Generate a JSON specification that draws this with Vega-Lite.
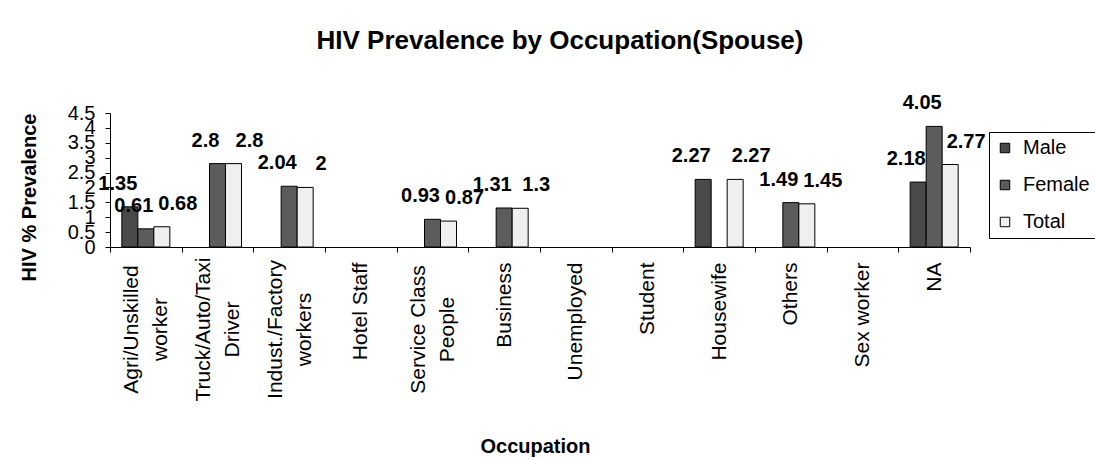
{
  "$schema": "https://vega.github.io/schema/vega-lite/v6.json",
  "width": 860,
  "height": 134,
  "autosize": {"type": "none"},
  "padding": {"left": 110, "top": 113, "right": 125, "bottom": 212},
  "background": "white",
  "config": {
    "font": "Liberation Sans",
    "view": {"stroke": null},
    "axis": {"domainColor": "#000", "tickColor": "#000", "labelColor": "#000", "titleColor": "#000", "grid": false}
  },
  "title": {
    "text": "HIV Prevalence by Occupation(Spouse)",
    "fontSize": 26,
    "fontWeight": "bold",
    "font": "Liberation Sans",
    "color": "#000",
    "anchor": "middle",
    "dx": 20,
    "offset": 18,
    "baseline": "alphabetic"
  },
  "data": {
    "values": [
      {"Occupation": "Agri/Unskilled\nworker", "Series": "Male", "Prevalence": 1.35},
      {"Occupation": "Agri/Unskilled\nworker", "Series": "Female", "Prevalence": 0.61},
      {"Occupation": "Agri/Unskilled\nworker", "Series": "Total", "Prevalence": 0.68},
      {"Occupation": "Truck/Auto/Taxi\nDriver", "Series": "Female", "Prevalence": 2.8},
      {"Occupation": "Truck/Auto/Taxi\nDriver", "Series": "Total", "Prevalence": 2.8},
      {"Occupation": "Indust./Factory\nworkers", "Series": "Female", "Prevalence": 2.04},
      {"Occupation": "Indust./Factory\nworkers", "Series": "Total", "Prevalence": 2},
      {"Occupation": "Service Class\nPeople", "Series": "Female", "Prevalence": 0.93},
      {"Occupation": "Service Class\nPeople", "Series": "Total", "Prevalence": 0.87},
      {"Occupation": "Business", "Series": "Female", "Prevalence": 1.31},
      {"Occupation": "Business", "Series": "Total", "Prevalence": 1.3},
      {"Occupation": "Housewife", "Series": "Male", "Prevalence": 2.27},
      {"Occupation": "Housewife", "Series": "Total", "Prevalence": 2.27},
      {"Occupation": "Others", "Series": "Female", "Prevalence": 1.49},
      {"Occupation": "Others", "Series": "Total", "Prevalence": 1.45},
      {"Occupation": "NA", "Series": "Male", "Prevalence": 2.18},
      {"Occupation": "NA", "Series": "Female", "Prevalence": 4.05},
      {"Occupation": "NA", "Series": "Total", "Prevalence": 2.77}
    ]
  },
  "encoding": {
    "x": {
      "field": "Occupation",
      "type": "nominal",
      "sort": null,
      "scale": {
        "domain": ["Agri/Unskilled\nworker", "Truck/Auto/Taxi\nDriver", "Indust./Factory\nworkers", "Hotel Staff", "Service Class\nPeople", "Business", "Unemployed", "Student", "Housewife", "Others", "Sex worker", "NA"],
        "paddingInner": 0,
        "paddingOuter": 0
      },
      "axis": {
        "title": "Occupation",
        "titleFontSize": 20,
        "titleFontWeight": "bold",
        "titleBaseline": "alphabetic",
        "titleX": 425,
        "titleY": 205,
        "labelAngle": -90,
        "labelAlign": {"condition": {"test": "length(datum.label) > 0 && indexof(datum.label, '/') >= 0 || indexof(datum.label, 'Class') >= 0", "value": "center"}, "value": "right"},
        "labelBaseline": {"condition": {"test": "length(datum.label) > 0 && indexof(datum.label, '/') >= 0 || indexof(datum.label, 'Class') >= 0", "value": "line-bottom"}, "value": "middle"},
        "labelPadding": {"condition": {"test": "length(datum.label) > 0 && indexof(datum.label, '/') >= 0 || indexof(datum.label, 'Class') >= 0", "value": 77}, "value": 10},
        "labelFontSize": 21,
        "labelLineHeight": 29,
        "labelLimit": 400,
        "labelOverlap": false,
        "labelExpr": "split(datum.label, '\\n')",
        "tickSize": 5,
        "tickBand": "extent"
      }
    },
    "xOffset": {
      "field": "Series",
      "type": "nominal",
      "scale": {"domain": ["Male", "Female", "Total"], "paddingOuter": 0.74, "paddingInner": 0}
    },
    "y": {
      "field": "Prevalence",
      "type": "quantitative",
      "scale": {"domain": [0, 4.5], "nice": false},
      "axis": {
        "title": "HIV % Prevalence",
        "titleFontSize": 20,
        "titleFontWeight": "bold",
        "titleBaseline": "alphabetic",
        "titleX": -75,
        "titleY": 84,
        "values": [0, 0.5, 1, 1.5, 2, 2.5, 3, 3.5, 4, 4.5],
        "format": "~g",
        "labelFontSize": 20,
        "labelPadding": 10,
        "labelOverlap": false,
        "labelFlush": false,
        "labelBound": false,
        "tickSize": 5
      }
    }
  },
  "layer": [
    {
      "mark": {"type": "bar", "stroke": "#000", "strokeWidth": 1},
      "encoding": {
        "color": {
          "field": "Series",
          "type": "nominal",
          "scale": {"domain": ["Male", "Female", "Total"], "range": ["#4a4a4a", "#5c5c5c", "#efefef"]},
          "legend": {
            "title": null,
            "orient": "none",
            "legendX": 879,
            "legendY": 19,
            "symbolType": "square",
            "symbolSize": 90,
            "symbolStrokeColor": "#000",
            "symbolStrokeWidth": 1,
            "symbolOpacity": 1,
            "labelFontSize": 20,
            "labelColor": "#000",
            "labelOffset": 8,
            "rowPadding": 17,
            "padding": 6,
            "strokeColor": "#000",
            "fillColor": "#fff"
          }
        }
      }
    },
    {
      "transform": [{"filter": "datum.Series === 'Male'"}],
      "mark": {"type": "text", "dx": -12, "dy": -17, "baseline": "alphabetic", "fontSize": 20, "fontWeight": "bold", "color": "#000"},
      "encoding": {"text": {"field": "Prevalence", "type": "quantitative"}}
    },
    {
      "transform": [{"filter": "datum.Series === 'Female'"}],
      "mark": {"type": "text", "dx": -12, "dy": -17, "baseline": "alphabetic", "fontSize": 20, "fontWeight": "bold", "color": "#000"},
      "encoding": {"text": {"field": "Prevalence", "type": "quantitative"}}
    },
    {
      "transform": [{"filter": "datum.Series === 'Total'"}],
      "mark": {"type": "text", "dx": 16, "dy": -17, "baseline": "alphabetic", "fontSize": 20, "fontWeight": "bold", "color": "#000"},
      "encoding": {"text": {"field": "Prevalence", "type": "quantitative"}}
    }
  ]
}
